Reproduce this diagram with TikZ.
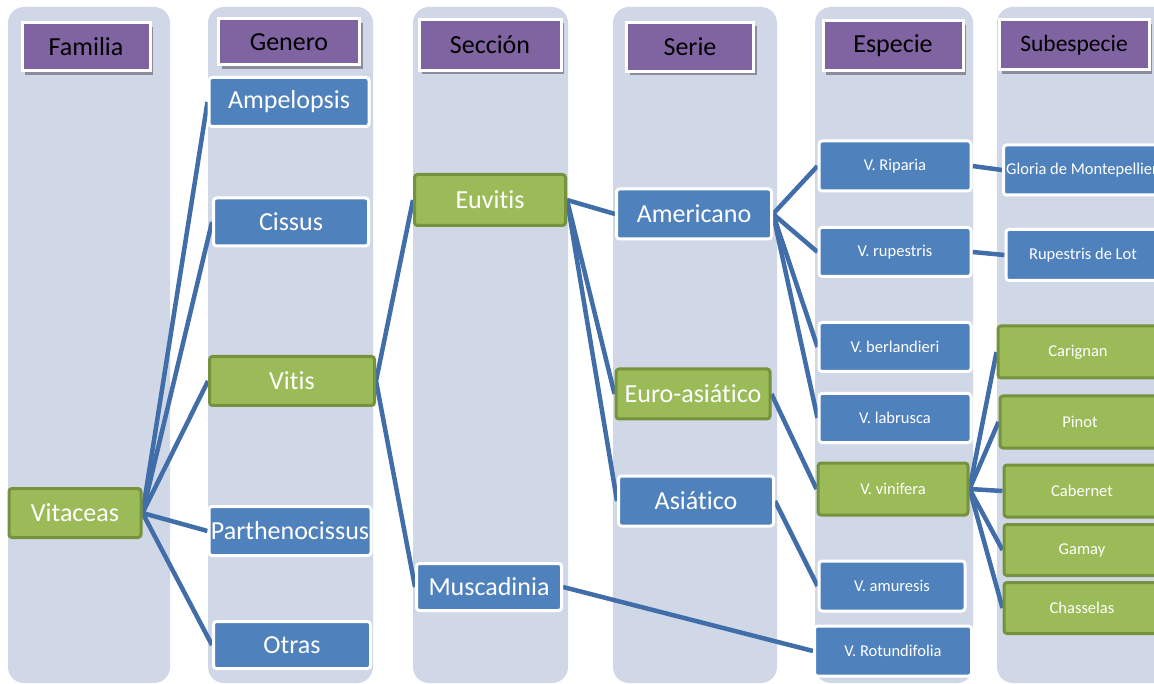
\documentclass[tikz,border=0pt]{standalone}
\usepackage{fontspec}
\setmainfont{Carlito}[Ligatures=NoCommon]
\usetikzlibrary{shadows}
\definecolor{colbg}{RGB}{208,216,232}
\definecolor{boxblue}{RGB}{79,129,189}
\definecolor{boxgreen}{RGB}{155,187,89}
\definecolor{greenedge}{RGB}{118,146,60}
\definecolor{hdrpurple}{RGB}{128,100,162}
\definecolor{hdrshadow}{RGB}{140,140,158}
\definecolor{linkblue}{RGB}{65,110,168}
\pgfdeclarelayer{back}
\pgfdeclarelayer{links}
\pgfsetlayers{back,links,main}
\tikzset{
  hdr/.style={fill=hdrpurple, draw=white, line width=3pt, text=black, inner sep=0pt,
    font=\fontsize{26}{30}\selectfont,
    drop shadow={shadow xshift=3pt, shadow yshift=-4pt, fill=hdrshadow, opacity=1}},
  bluebox/.style={fill=boxblue, draw=white, line width=3pt, text=white, inner sep=0pt,
    rounded corners=3pt, font=\fontsize{26}{30}\selectfont},
  greenbox/.style={fill=boxgreen, draw=greenedge, line width=3pt, text=white, inner sep=0pt,
    rounded corners=3pt, font=\fontsize{26}{30}\selectfont},
  small/.style={font=\fontsize{16.5}{20}\selectfont},
  link/.style={draw=linkblue, line width=4.5pt}
}

\begin{document}
\begin{tikzpicture}[x=1pt,y=-1pt]
\useasboundingbox (0,0) rectangle (1154,684);
% columns
\begin{pgfonlayer}{back}
\foreach \xa/\xb in {8/170,208/373,413/568,613/777,815/973,997/1180}
  \fill[colbg, rounded corners=16pt] (\xa,7) rectangle (\xb,683);
\end{pgfonlayer}

% headers
\node[hdr, minimum width=128pt, minimum height=48pt] (familia) at (86,47) {Familia};
\node[hdr, minimum width=141pt, minimum height=46pt] (genero) at (289,42) {Genero};
\node[hdr, minimum width=142pt, minimum height=51pt] (seccion) at (490,45) {Sección};
\node[hdr, minimum width=127pt, minimum height=49pt] (serie) at (690,47) {Serie};
\node[hdr, minimum width=140pt, minimum height=50pt] (especie) at (893,46) {Especie};
\node[hdr, minimum width=150pt, minimum height=50pt, font=\fontsize{23.5}{28}\selectfont] (subespecie) at (1074,45) {Subespecie};

% familia, genero
\node[greenbox, minimum width=132pt, minimum height=49pt] (vitaceas) at (75,513) {Vitaceas};
\node[bluebox, minimum width=160pt, minimum height=49pt] (ampelopsis) at (289,102) {Ampelopsis};
\node[bluebox, minimum width=155pt, minimum height=48pt] (cissus) at (291,222) {Cissus};
\node[greenbox, minimum width=165pt, minimum height=49pt] (vitis) at (292,381) {Vitis};
\node[bluebox, minimum width=162pt, minimum height=49pt] (partheno) at (290,531) {Parthenocissus};
\node[bluebox, minimum width=157pt, minimum height=47pt] (otras) at (292,645) {Otras};

% seccion, serie
\node[greenbox, minimum width=151pt, minimum height=51pt] (euvitis) at (490,200) {Euvitis};
\node[bluebox, minimum width=145pt, minimum height=47pt] (muscadinia) at (489,587) {Muscadinia};
\node[bluebox, minimum width=155pt, minimum height=50pt] (americano) at (694,214) {Americano};
\node[greenbox, minimum width=154pt, minimum height=50pt] (euroasia) at (693,394) {Euro-asiático};
\node[bluebox, minimum width=155pt, minimum height=50pt] (asiatico) at (696,501) {Asiático};

% especie
\node[bluebox, small, minimum width=152pt, minimum height=50pt] (riparia) at (895,166) {V. Riparia};
\node[bluebox, small, minimum width=152pt, minimum height=49pt] (rupestris) at (895,252) {V. rupestris};
\node[bluebox, small, minimum width=152pt, minimum height=49pt] (berlandieri) at (895,347) {V. berlandieri};
\node[bluebox, small, minimum width=152pt, minimum height=49pt] (labrusca) at (895,418) {V. labrusca};
\node[greenbox, small, minimum width=150pt, minimum height=52pt] (vinifera) at (893,489) {V. vinifera};
\node[bluebox, small, minimum width=146pt, minimum height=50pt] (amuresis) at (892,586) {V. amuresis};
\node[bluebox, small, minimum width=157pt, minimum height=50pt] (rotundifolia) at (893,651) {V. Rotundifolia};

% subespecie
\node[bluebox, small, minimum width=157pt, minimum height=50pt] (gloria) at (1082,170) {Gloria de Montepellier};
\node[bluebox, small, minimum width=154pt, minimum height=51pt] (rupestrislot) at (1083,255) {Rupestris de Lot};
\node[greenbox, small, minimum width=160pt, minimum height=52pt] (carignan) at (1078,352) {Carignan};
\node[greenbox, small, minimum width=160pt, minimum height=52pt] (pinot) at (1080,422) {Pinot};
\node[greenbox, small, minimum width=156pt, minimum height=52pt] (cabernet) at (1082,491) {Cabernet};
\node[greenbox, small, minimum width=156pt, minimum height=51pt] (gamay) at (1082,550) {Gamay};
\node[greenbox, small, minimum width=156pt, minimum height=51pt] (chasselas) at (1082,608) {Chasselas};

% connectors
\begin{pgfonlayer}{links}
\foreach \c in {ampelopsis,cissus,vitis,partheno,otras}
  \draw[link] (vitaceas.east) -- (\c.west);
\foreach \c in {euvitis,muscadinia}
  \draw[link] (vitis.east) -- (\c.west);
\foreach \c in {americano,euroasia,asiatico}
  \draw[link] (euvitis.east) -- (\c.west);
\foreach \c in {riparia,rupestris,berlandieri,labrusca}
  \draw[link] (americano.east) -- (\c.west);
\draw[link] (euroasia.east) -- (vinifera.west);
\draw[link] (asiatico.east) -- (amuresis.west);
\draw[link] (muscadinia.east) -- (rotundifolia.west);
\draw[link] (riparia.east) -- (gloria.west);
\draw[link] (rupestris.east) -- (rupestrislot.west);
\foreach \c in {carignan,pinot,cabernet,gamay,chasselas}
  \draw[link] (vinifera.east) -- (\c.west);
\end{pgfonlayer}
\end{tikzpicture}
\end{document}
